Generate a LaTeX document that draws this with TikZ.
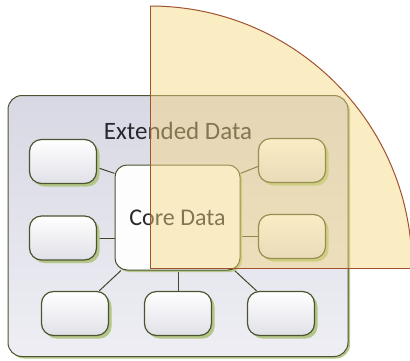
\documentclass[tikz,border=0pt]{standalone}
\usepackage{fontspec}
\setmainfont{Carlito}
\usepackage{tikz}
\usetikzlibrary{positioning,calc,shadows}
\definecolor{edgeolive}{RGB}{74,84,48}
\definecolor{shadegreen}{RGB}{180,198,136}
\definecolor{panelgrey}{RGB}{216,216,228}
\definecolor{panellight}{RGB}{238,238,244}
\definecolor{boxgrey}{RGB}{224,224,232}
\definecolor{overlayfill}{RGB}{245,214,125}
\definecolor{overlayedge}{RGB}{160,82,45}
\definecolor{textgrey}{RGB}{40,40,45}
\pgfdeclarelayer{back}
\pgfdeclarelayer{lines}
\pgfsetlayers{back,lines,main}

\begin{document}
\begin{tikzpicture}[x=1pt,y=-1pt]
      \tikzstyle{panel}=[draw=edgeolive,line width=1pt,rounded corners=14pt,
        top color=panelgrey,bottom color=panellight,
        drop shadow={shadow xshift=2pt,shadow yshift=-2pt,fill=shadegreen,opacity=1}]
      \tikzstyle{leaf}=[draw=edgeolive,line width=1.2pt,rounded corners=12pt,
        minimum width=67pt,minimum height=44pt,inner sep=0pt,
        top color=white,bottom color=boxgrey,
        drop shadow={shadow xshift=3pt,shadow yshift=-3pt,fill=shadegreen,opacity=1}]
      \tikzstyle{core}=[draw=edgeolive,line width=1pt,rounded corners=12pt,
        minimum width=125pt,minimum height=105pt,inner sep=0pt,
        fill=white!92!boxgrey,font=\fontsize{24}{28}\selectfont,text=textgrey,
        drop shadow={shadow xshift=2pt,shadow yshift=-2pt,fill=shadegreen,opacity=1}]
      \tikzstyle{link}=[draw=edgeolive!85!black,line width=1pt]
      \useasboundingbox (0,0) rectangle (410,360);
      % extended data panel
      \begin{pgfonlayer}{back}
        \node[panel,minimum width=340pt,minimum height=261pt] (ext) at (178,226) {};
      \end{pgfonlayer}
      \node[font=\fontsize{25}{30}\selectfont,text=textgrey] (extlabel) at (178,131) {Extended Data};
      % core and satellites
      \node[core] (core) at (177.5,217.5) {Core Data};
      \node[leaf] (left1) at (63,161.5) {};
      \node[leaf] (left2) at (63,238) {};
      \node[leaf] (right1) at (292,160.5) {};
      \node[leaf] (right2) at (292,236.5) {};
      \node[leaf] (bot1) at (75,313.5) {};
      \node[leaf] (bot2) at (178,313.5) {};
      \node[leaf] (bot3) at (281,313.5) {};
      \begin{pgfonlayer}{lines}
        \draw[link] (left1.-10) -- (core.145);
        \draw[link] (left2.east) -- (left2.east -| core.west);
        \draw[link] (right1.190) -- (core.35);
        \draw[link] (right2.west) -- (right2.west -| core.east);
        \draw[link] (bot1) -- (core);
        \draw[link] (bot2.north) -- (bot2.north |- core.south);
        \draw[link] (bot3) -- (core);
      \end{pgfonlayer}
      % translucent quarter disc on top
      \begin{scope}
        \clip (150,0) rectangle (410,268);
        \fill[overlayfill,opacity=0.45] (150,268) circle[radius=262pt];
        \draw[overlayedge,line width=1pt] (150,268) circle[radius=262pt];
      \end{scope}
      \draw[overlayedge,line width=1pt] (150,6) -- (150,268) -- (410,268);
    \end{tikzpicture}
\end{document}
